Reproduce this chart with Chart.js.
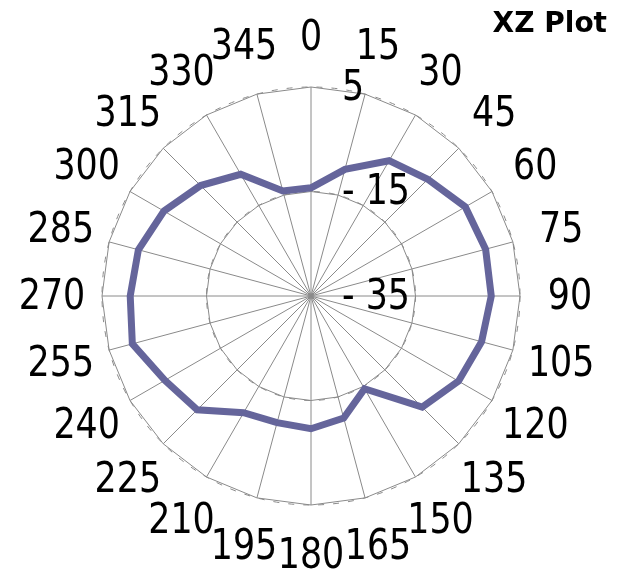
<!DOCTYPE html>
<html>
<head>
<meta charset="utf-8">
<title>XZ Plot</title>
<script src="https://cdn.jsdelivr.net/npm/chart.js@4/dist/chart.umd.min.js"></script>
<style>
  html, body { margin: 0; padding: 0; background: #fff; }
  .chart-wrapper { position: relative; width: 617px; height: 572px; }
</style>
</head>
<body>
<div class="chart-wrapper"><canvas id="xz-chart"></canvas></div>
<script>
const angles = ['0', '15', '30', '45', '60', '75', '90', '105', '120', '135', '150', '165',
  '180', '195', '210', '225', '240', '255', '270', '285', '300', '315', '330', '345'];
const xzValues = [-14.3, -9.9, -5.1, -3.4, -0.9, -0.4, -0.5, -1.2, -2.4, -4.9, -14.5, -10.8,
  -9.6, -9.9, -9.2, -4.2, -2.7, 0.4, -0.4, -0.8, -2.5, -5.1, -8.1, -14.2];
const tickValues = [-35, -15, 5];
const tickLabels = ['- 35', '- 15', '5'];

const GRID_COLOR = '#8a8a8a';
const LABEL_FONT = '42px "DejaVu Sans"';
const SQUEEZE = 0.83;

function drawSqueezed(ctx, text, x, y, align) {
  ctx.save();
  ctx.translate(x, y + 2);
  ctx.scale(SQUEEZE, 1);
  ctx.textAlign = align;
  ctx.textBaseline = 'middle';
  ctx.fillText(text, 0, 0);
  ctx.restore();
}

// round rings on top of the polygon grid, the reference shows both
const ringPlugin = {
  id: 'rings',
  beforeDatasetsDraw(chart) {
    const scale = chart.scales.r;
    const ctx = chart.ctx;
    ctx.save();
    ctx.strokeStyle = GRID_COLOR;
    ctx.lineWidth = 1;
    ctx.setLineDash([6, 9]);
    scale.ticks.forEach((tick) => {
      const radius = scale.getDistanceFromCenterForValue(tick.value);
      if (radius <= 0) {
        return;
      }
      ctx.beginPath();
      ctx.arc(scale.xCenter, scale.yCenter, radius, 0, Math.PI * 2);
      ctx.stroke();
    });
    ctx.restore();
  },
};

// labels are narrow and centred on their spoke, so they are drawn here
const labelPlugin = {
  id: 'polarLabels',
  afterDraw(chart) {
    const scale = chart.scales.r;
    const ctx = chart.ctx;
    ctx.save();
    ctx.fillStyle = '#000';
    ctx.font = LABEL_FONT;
    angles.forEach((label, i) => {
      const pos = scale.getPointPosition(i, scale.drawingArea + 50);
      drawSqueezed(ctx, label, pos.x, pos.y, 'center');
    });
    scale.ticks.forEach((tick, i) => {
      const dist = scale.getDistanceFromCenterForValue(tick.value);
      drawSqueezed(ctx, tickLabels[i], scale.xCenter + 31, scale.yCenter - dist, 'left');
    });
    ctx.restore();
  },
};

const data = {
  labels: angles,
  datasets: [
    {
      data: xzValues,
      borderColor: '#65659b',
      borderWidth: 7,
      pointRadius: 0,
      pointHoverRadius: 0,
      fill: false,
      tension: 0,
    },
  ],
};

const config = {
  type: 'radar',
  data: data,
  options: {
    responsive: true,
    maintainAspectRatio: false,
    animation: false,
    layout: {
      padding: { left: 15, right: 10, top: 0, bottom: 67 },
    },
    plugins: {
      legend: { display: false },
      tooltip: { enabled: false },
      title: {
        display: true,
        text: 'XZ Plot',
        align: 'end',
        color: '#000',
        font: { family: 'DejaVu Sans', size: 28, weight: 'bold', lineHeight: 1.2 },
        padding: { top: 8, bottom: 45.4 },
      },
    },
    scales: {
      r: {
        min: tickValues[0],
        max: tickValues[tickValues.length - 1],
        ticks: {
          stepSize: 20,
          display: false,
        },
        grid: {
          circular: false,
          color: GRID_COLOR,
          lineWidth: 1,
        },
        angleLines: {
          color: GRID_COLOR,
          lineWidth: 1,
        },
        pointLabels: {
          display: false,
        },
      },
    },
  },
  plugins: [ringPlugin, labelPlugin],
};

new Chart(document.getElementById('xz-chart'), config);
</script>
</body>
</html>
